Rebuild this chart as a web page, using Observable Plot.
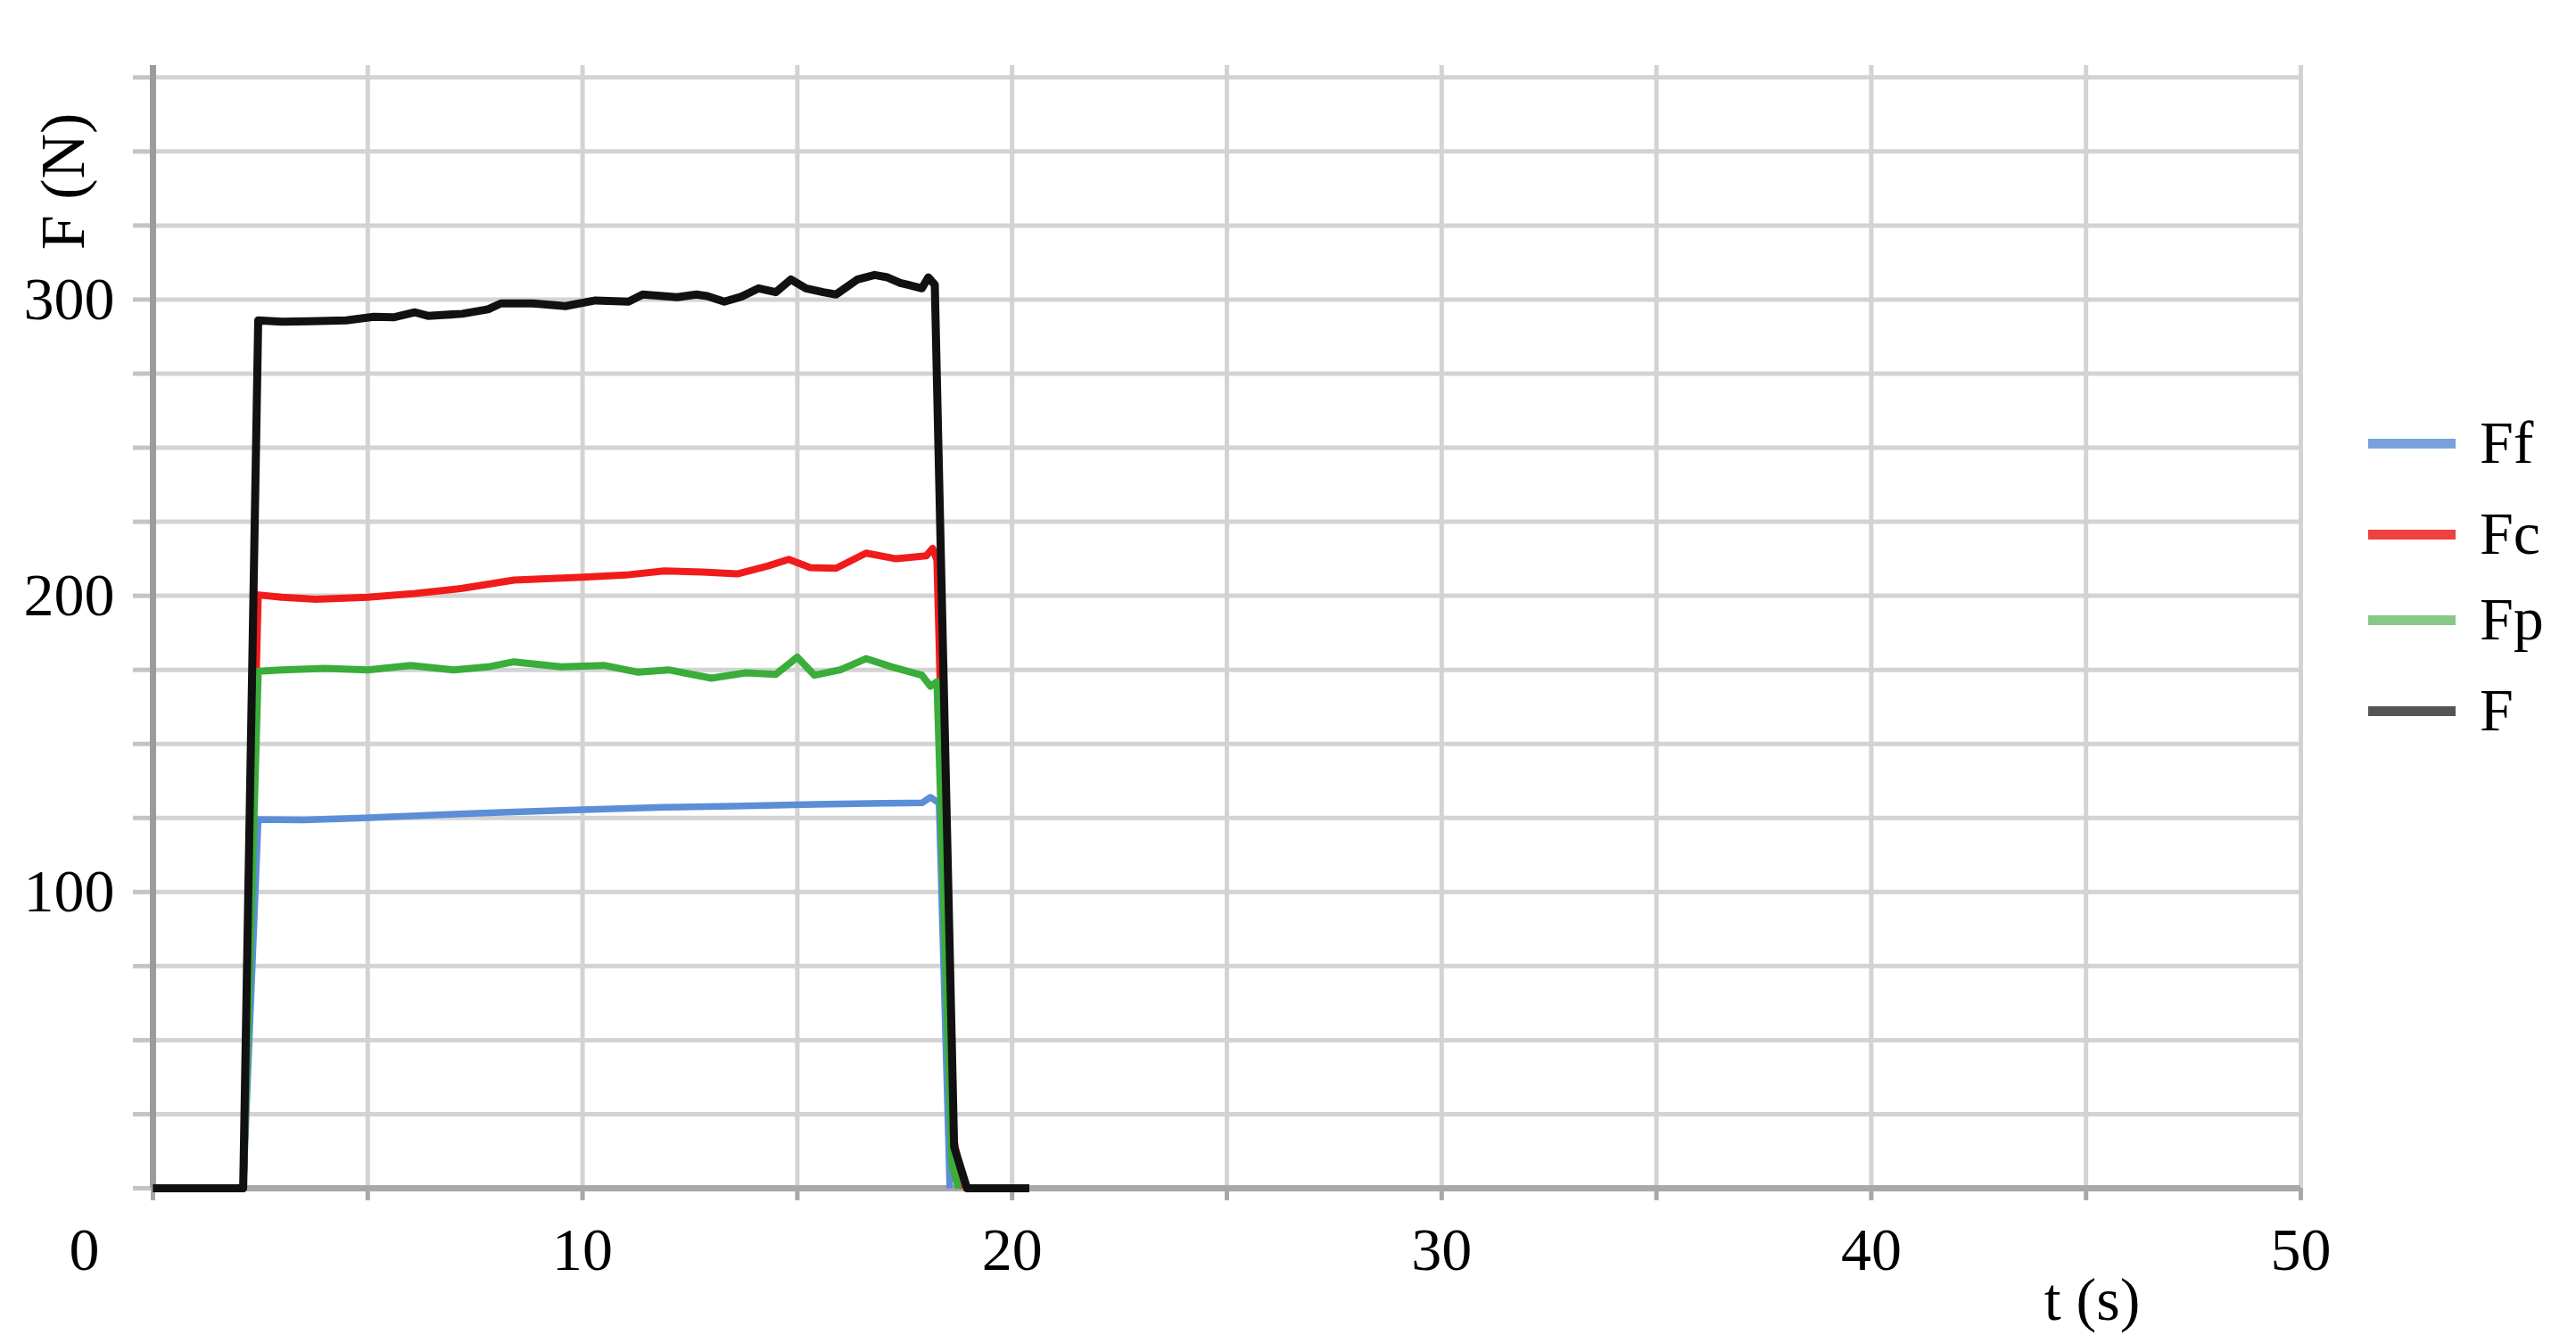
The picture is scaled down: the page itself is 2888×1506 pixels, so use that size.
<!DOCTYPE html>
<html>
<head>
<meta charset="utf-8">
<script src="https://cdn.jsdelivr.net/npm/d3@7"></script>
<script src="https://cdn.jsdelivr.net/npm/@observablehq/plot@0.6"></script>
<style>
  html, body { margin: 0; padding: 0; background: #fff; }
  #wrap { position: relative; width: 2888px; height: 1506px; overflow: hidden; }
  .lg-line { position: absolute; height: 11px; width: 98px; left: 2655px; }
  .lg-text { position: absolute; left: 2780px; font-family: "Liberation Serif", serif; font-size: 68px; line-height: 68px; color: #000; }
</style>
</head>
<body>
<div id="wrap"></div>
<script>
// ---- data ----
const seriesNames = ["Ff", "Fc", "Fp", "F"];
const lineColors  = ["#5b8ed6", "#f01c1c", "#3aad3a", "#111111"];
const legendColors = ["#79a2dc", "#ef4141", "#86c986", "#555555"];

const tFf = [0, 2.1, 2.45, 3.5, 4.9, 6.5, 8.4, 10, 11.9, 13.5, 15.4, 17, 17.9, 18.1, 18.3, 18.55];
const vFf = [0, 0, 124.5, 124.3, 125, 126, 127, 127.8, 128.6, 129, 129.6, 130, 130.1, 132, 130, 0];

const tFc = [0, 2.1, 2.45, 3, 3.8, 5, 6.1, 7.2, 8.4, 10, 11, 11.9, 12.8, 13.6, 14.3, 14.8, 15.3, 15.9, 16.6, 17.3, 18.0, 18.15, 18.25, 18.6, 18.85];
const vFc = [0, 0, 200.3, 199.5, 198.8, 199.5, 200.8, 202.5, 205.3, 206.3, 207, 208.4, 208, 207.4, 210, 212.3, 209.5, 209.3, 214.4, 212.5, 213.5, 216, 212, 20, 0];

const tFp = [0, 2.1, 2.45, 3, 4, 5, 6, 7, 7.8, 8.4, 9.5, 10.5, 11.3, 12, 13, 13.8, 14.5, 15, 15.4, 16, 16.6, 17.2, 17.9, 18.1, 18.25, 18.6, 18.75];
const vFp = [0, 0, 174.5, 175, 175.5, 175, 176.5, 175, 176, 177.7, 176, 176.5, 174.2, 175, 172.2, 174, 173.5, 179.3, 173.2, 175, 178.8, 176, 173.2, 169.5, 171, 8, 0];

const tF = [0, 2.1, 2.45, 3.0, 3.65, 4.5, 5.14, 5.6, 6.1, 6.4, 7.2, 7.8, 8.1, 8.85, 9.6, 10.3, 11.07, 11.4, 12.2, 12.65, 12.9, 13.3, 13.7, 14.1, 14.5, 14.85, 15.2, 15.6, 15.9, 16.4, 16.8, 17.1, 17.4, 17.9, 18.05, 18.2, 18.65, 18.95, 20.4];
const vF = [0, 0, 293, 292.5, 292.7, 293, 294.2, 294, 295.7, 294.5, 295.2, 296.7, 298.7, 298.7, 297.8, 299.7, 299.3, 301.7, 300.8, 301.7, 301.2, 299.3, 301, 303.8, 302.5, 306.8, 303.8, 302.5, 301.7, 306.8, 308.3, 307.5, 305.6, 303.8, 307.5, 305, 14, 0, 0];

const xGrid = [0, 5, 10, 15, 20, 25, 30, 35, 40, 45, 50];
const xLabels = [10, 20, 30, 40, 50];
const xOrigin = [0];
const yGrid = [0, 25, 50, 75, 100, 125, 150, 175, 200, 225, 250, 275, 300, 325, 350, 375];
const yLabels = [100, 200, 300];
const yTitle = "F (N)";
const xTitle = "t (s)";

const ts = [tFf, tFc, tFp, tF];
const vs = [vFf, vFc, vFp, vF];
const widths = [7.5, 8, 8, 9];
const series = seriesNames.map((name, i) => ts[i].map((t, j) => ({series: name, t, v: vs[i][j]})));

const font = '"Liberation Serif", serif';

const chart = Plot.plot({
  width: 2888,
  height: 1506,
  marginLeft: 171,
  marginRight: 309,
  marginTop: 73,
  marginBottom: 174,
  x: {domain: [0, 50]},
  y: {domain: [0, 379]},
  style: {fontFamily: font, fontSize: "68px", background: "#fff", color: "#000", overflow: "visible"},
  marks: [
    Plot.gridY(yGrid, {stroke: "#d3d3d3", strokeOpacity: 1, strokeWidth: 5}),
    Plot.gridX(xGrid, {stroke: "#d3d3d3", strokeOpacity: 1, strokeWidth: 5}),
    Plot.axisY({ticks: yGrid, tickSize: 22, tickFormat: () => "", stroke: "#c4c4c4", strokeWidth: 5, label: null}),
    Plot.axisX({ticks: xGrid, tickSize: 14, tickFormat: () => "", stroke: "#a8a8a8", strokeWidth: 5, label: null}),
    Plot.ruleX([0], {stroke: "#9c9c9c", strokeWidth: 7}),
    Plot.ruleY([0], {stroke: "#a8a8a8", strokeWidth: 7}),
    Plot.axisY({ticks: yLabels, tickSize: 0, tickPadding: 43, fontSize: 68, label: null}),
    Plot.axisX({ticks: xLabels, tickSize: 0, tickPadding: 43, fontSize: 68, label: null}),
    Plot.axisX({ticks: xOrigin, tickSize: 0, tickPadding: 43, fontSize: 68, dx: -77, label: null}),
    ...series.map((rows, i) => Plot.line(rows, {x: "t", y: "v", stroke: lineColors[i], strokeWidth: widths[i], strokeLinejoin: "round", strokeLinecap: "butt"})),
    Plot.text([yTitle], {frameAnchor: "top-left", dx: -100, dy: 130, rotate: -90, textAnchor: "middle", lineAnchor: "middle", fontSize: 70, fill: "#000"}),
    Plot.text([xTitle], {frameAnchor: "bottom-right", dx: -234, dy: 126, textAnchor: "middle", lineAnchor: "middle", fontSize: 68, fill: "#000"})
  ]
});

const wrap = document.getElementById("wrap");
wrap.appendChild(chart);

// legend (HTML, overlaid in the right margin)
const legendY = [497, 599, 695, 797];
seriesNames.forEach((name, i) => {
  const ln = document.createElement("div");
  ln.className = "lg-line";
  ln.style.top = (legendY[i] - 5) + "px";
  ln.style.background = legendColors[i];
  wrap.appendChild(ln);
  const tx = document.createElement("div");
  tx.className = "lg-text";
  tx.style.top = (legendY[i] - 35) + "px";
  tx.textContent = name;
  wrap.appendChild(tx);
});
</script>
</body>
</html>
